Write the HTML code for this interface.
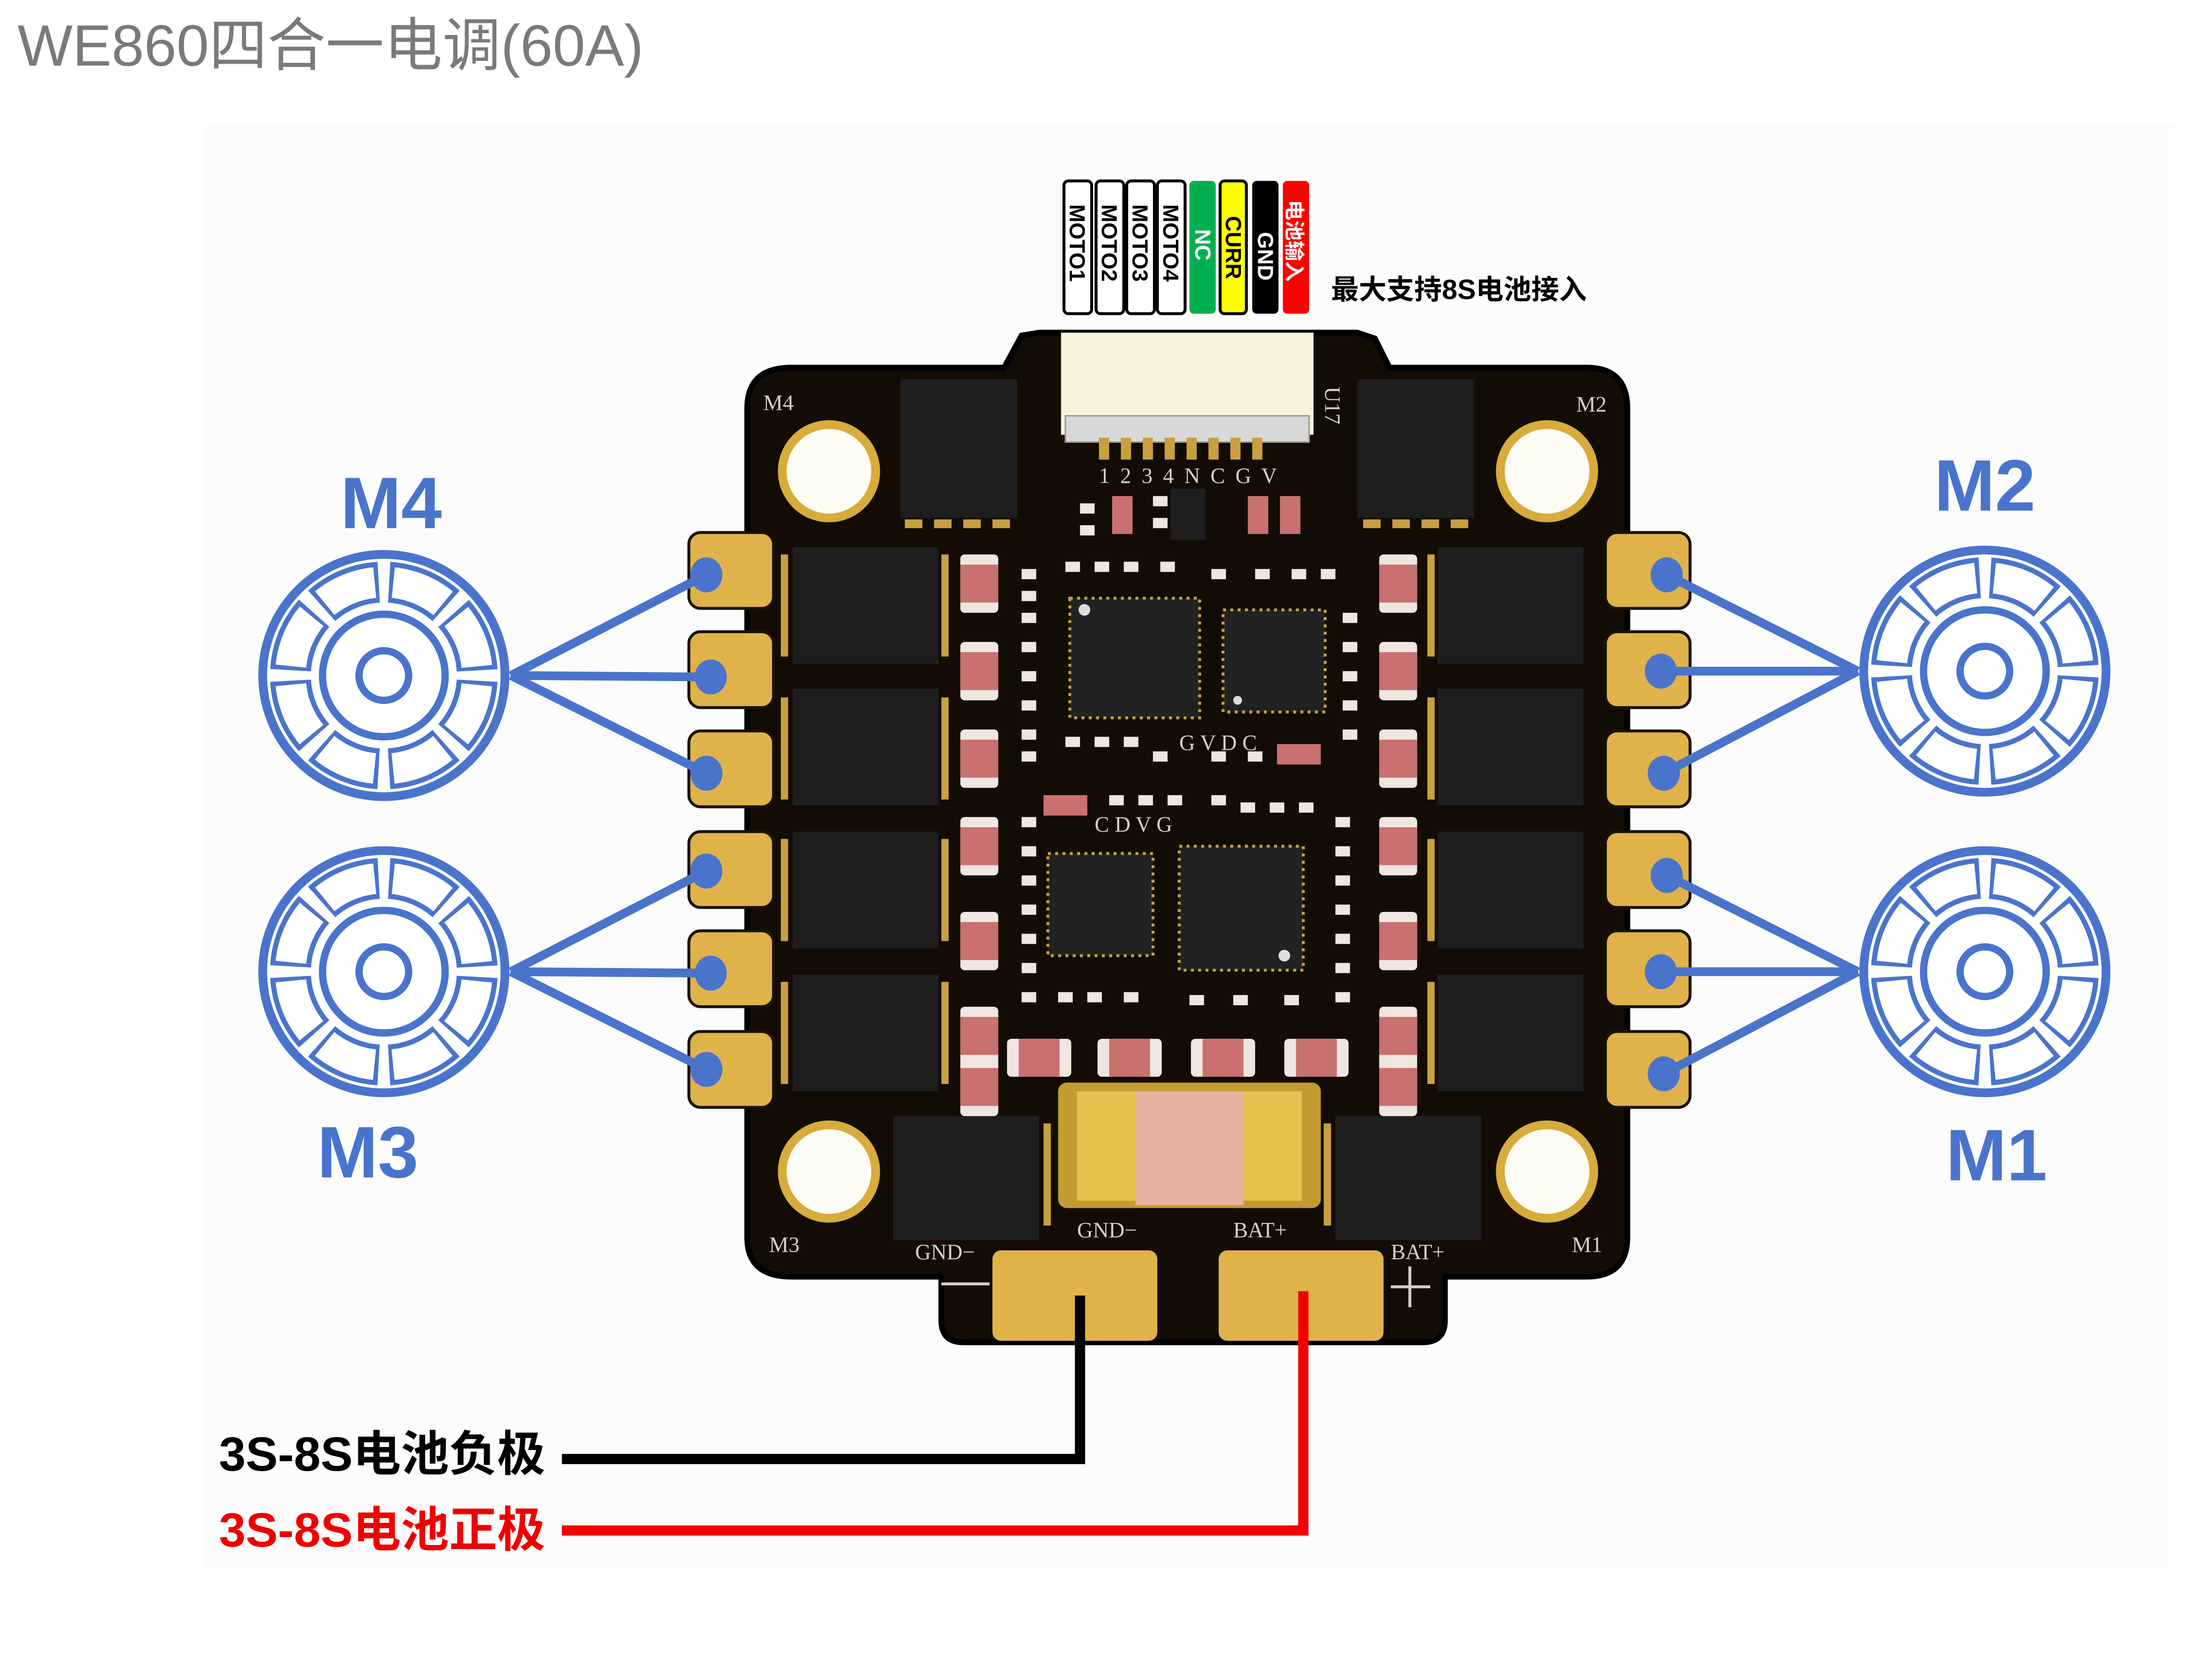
<!DOCTYPE html>
<html><head><meta charset="utf-8">
<style>
html,body{margin:0;padding:0;background:#fff;}
svg{display:block;}
.t{font-family:"Liberation Sans","Noto Sans CJK SC",sans-serif;}
.s{font-family:"Liberation Serif",serif;fill:#d8d0c0;font-size:15px;}
</style></head><body>
<svg width="5120" height="3779" viewBox="0 0 1552 1146" preserveAspectRatio="none" xmlns="http://www.w3.org/2000/svg">
<defs>
<g id="motor">
  <circle r="83" fill="#fff" stroke="#4a74cc" stroke-width="6"/>
  <circle r="64" fill="none" stroke="#4a74cc" stroke-width="28" stroke-dasharray="43 7.27" stroke-dashoffset="-3.6"/>
  <circle r="64" fill="none" stroke="#fff" stroke-width="21" stroke-dasharray="37.5 12.77" stroke-dashoffset="-6.4"/>
  <circle r="42" fill="#fff" stroke="#4a74cc" stroke-width="5"/>
  <circle r="17" fill="#fff" stroke="#4a74cc" stroke-width="5"/>
</g>
<g id="pad"><rect x="0" y="0" width="58" height="52" rx="8" fill="#e0b24a" stroke="#1a1206" stroke-width="2"/></g>
<g id="fet"><rect x="0" y="0" width="100" height="80" fill="#1e1e1e"/></g>
<g id="rv"><rect x="0" y="0" width="26" height="40" rx="3" fill="#f0e6e0"/><rect x="0" y="7" width="26" height="26" fill="#c97070"/></g>
<g id="rh"><rect x="0" y="0" width="44" height="26" rx="3" fill="#f0e6e0"/><rect x="8" y="0" width="28" height="26" fill="#c97070"/></g>
<g id="sm"><rect width="10" height="7" fill="#f0e6e0"/></g>
</defs>

<rect x="140" y="85" width="1350" height="990" fill="#fcfcfc"/>

<text class="t" x="12" y="45" font-size="40" fill="#7a7a7a">WE860四合一电调(60A)</text>

<!-- PCB -->
<path d="M542 252 L688 252 L700 230 L712 228 L930 228 L942 232 L952 252 L1087 252 Q1115 252 1115 280 L1115 848 Q1115 875 1087 875 L990 875 L990 905 Q990 920 975 920 L660 920 Q645 920 645 905 L645 875 L542 875 Q512 875 512 848 L512 280 Q512 252 542 252 Z" fill="#120c04" stroke="#000" stroke-width="4"/>

<!-- mount holes -->
<g fill="#fdfcf4" stroke="#d7ab3c" stroke-width="6">
<circle cx="568" cy="323" r="32"/><circle cx="1060" cy="323" r="32"/>
<circle cx="568" cy="803" r="32"/><circle cx="1060" cy="803" r="32"/>
</g>

<!-- side pads -->
<g>
<use href="#pad" x="472" y="365"/><use href="#pad" x="472" y="433"/><use href="#pad" x="472" y="501"/>
<use href="#pad" x="472" y="570"/><use href="#pad" x="472" y="638"/><use href="#pad" x="472" y="707"/>
<use href="#pad" x="1100" y="365"/><use href="#pad" x="1100" y="433"/><use href="#pad" x="1100" y="501"/>
<use href="#pad" x="1100" y="570"/><use href="#pad" x="1100" y="638"/><use href="#pad" x="1100" y="707"/>
</g>

<!-- MOSFETs -->
<use href="#fet" x="543" y="375"/><use href="#fet" x="543" y="472"/><use href="#fet" x="543" y="570"/><use href="#fet" x="543" y="668"/>
<use href="#fet" x="985" y="375"/><use href="#fet" x="985" y="472"/><use href="#fet" x="985" y="570"/><use href="#fet" x="985" y="668"/>
<rect x="617" y="260" width="80" height="95" fill="#1e1e1e"/>
<rect x="930" y="260" width="80" height="95" fill="#1e1e1e"/>
<rect x="612" y="765" width="100" height="85" fill="#1e1e1e"/>
<rect x="915" y="765" width="100" height="85" fill="#1e1e1e"/>
<g fill="#c9a040">
<rect x="620" y="356" width="12" height="6"/><rect x="640" y="356" width="12" height="6"/><rect x="660" y="356" width="12" height="6"/><rect x="680" y="356" width="12" height="6"/>
<rect x="934" y="356" width="12" height="6"/><rect x="954" y="356" width="12" height="6"/><rect x="974" y="356" width="12" height="6"/><rect x="994" y="356" width="12" height="6"/>
<rect x="535" y="380" width="5" height="70"/><rect x="535" y="478" width="5" height="70"/><rect x="535" y="575" width="5" height="70"/><rect x="535" y="673" width="5" height="70"/>
<rect x="645" y="380" width="5" height="70"/><rect x="645" y="478" width="5" height="70"/><rect x="645" y="575" width="5" height="70"/><rect x="645" y="673" width="5" height="70"/>
<rect x="978" y="380" width="5" height="70"/><rect x="978" y="478" width="5" height="70"/><rect x="978" y="575" width="5" height="70"/><rect x="978" y="673" width="5" height="70"/>
<rect x="715" y="770" width="5" height="70"/><rect x="907" y="770" width="5" height="70"/>
</g>

<!-- pink resistors columns -->
<g>
<use href="#rv" x="658" y="380"/><use href="#rv" x="658" y="440"/><use href="#rv" x="658" y="500"/><use href="#rv" x="658" y="560"/><use href="#rv" x="658" y="625"/><use href="#rv" x="658" y="690"/>
<use href="#rv" x="945" y="380"/><use href="#rv" x="945" y="440"/><use href="#rv" x="945" y="500"/><use href="#rv" x="945" y="560"/><use href="#rv" x="945" y="625"/><use href="#rv" x="945" y="690"/>
<use href="#rh" x="690" y="712"/><use href="#rh" x="752" y="712"/><use href="#rh" x="816" y="712"/><use href="#rh" x="880" y="712"/>
<use href="#rv" x="658" y="725"/><use href="#rv" x="945" y="725"/>
</g>

<!-- chips -->
<rect x="733" y="410" width="89" height="82" fill="#222" stroke="#c9a040" stroke-width="2" stroke-dasharray="2 3"/>
<rect x="838" y="418" width="70" height="70" fill="#222" stroke="#c9a040" stroke-width="2" stroke-dasharray="2 3"/>
<rect x="718" y="585" width="72" height="70" fill="#222" stroke="#c9a040" stroke-width="2" stroke-dasharray="2 3"/>
<rect x="808" y="580" width="85" height="85" fill="#222" stroke="#c9a040" stroke-width="2" stroke-dasharray="2 3"/>
<circle cx="743" cy="418" r="4" fill="#ddd"/><circle cx="848" cy="480" r="3" fill="#ddd"/><circle cx="880" cy="655" r="4" fill="#ddd"/>

<!-- small parts -->
<g>
<use href="#sm" x="700" y="390"/><use href="#sm" x="700" y="405"/><use href="#sm" x="700" y="420"/><use href="#sm" x="700" y="440"/><use href="#sm" x="700" y="460"/><use href="#sm" x="700" y="480"/><use href="#sm" x="700" y="500"/><use href="#sm" x="700" y="515"/>
<use href="#sm" x="730" y="385"/><use href="#sm" x="750" y="385"/><use href="#sm" x="770" y="385"/><use href="#sm" x="795" y="385"/><use href="#sm" x="830" y="390"/><use href="#sm" x="860" y="390"/><use href="#sm" x="885" y="390"/><use href="#sm" x="905" y="390"/>
<use href="#sm" x="920" y="420"/><use href="#sm" x="920" y="440"/><use href="#sm" x="920" y="460"/><use href="#sm" x="920" y="480"/><use href="#sm" x="920" y="500"/>
<use href="#sm" x="730" y="505"/><use href="#sm" x="750" y="505"/><use href="#sm" x="770" y="505"/><use href="#sm" x="790" y="515"/><use href="#sm" x="830" y="515"/><use href="#sm" x="855" y="515"/>
<use href="#sm" x="700" y="560"/><use href="#sm" x="700" y="580"/><use href="#sm" x="700" y="600"/><use href="#sm" x="700" y="620"/><use href="#sm" x="700" y="640"/><use href="#sm" x="700" y="660"/><use href="#sm" x="700" y="680"/>
<use href="#sm" x="915" y="560"/><use href="#sm" x="915" y="580"/><use href="#sm" x="915" y="600"/><use href="#sm" x="915" y="620"/><use href="#sm" x="915" y="640"/><use href="#sm" x="915" y="660"/><use href="#sm" x="915" y="680"/>
<use href="#sm" x="760" y="545"/><use href="#sm" x="780" y="545"/><use href="#sm" x="800" y="545"/><use href="#sm" x="830" y="545"/><use href="#sm" x="850" y="550"/><use href="#sm" x="870" y="550"/><use href="#sm" x="890" y="550"/>
<use href="#sm" x="725" y="680"/><use href="#sm" x="745" y="680"/><use href="#sm" x="770" y="680"/><use href="#sm" x="815" y="682"/><use href="#sm" x="845" y="682"/><use href="#sm" x="880" y="682"/>
<use href="#sm" x="740" y="345"/><use href="#sm" x="740" y="360"/><use href="#sm" x="790" y="340"/><use href="#sm" x="790" y="355"/>
</g>
<rect x="715" y="545" width="30" height="14" fill="#c97070"/><rect x="875" y="510" width="30" height="14" fill="#c97070"/>
<rect x="762" y="340" width="14" height="26" fill="#c97070"/><rect x="855" y="340" width="14" height="26" fill="#c97070"/><rect x="877" y="340" width="14" height="26" fill="#c97070"/>
<rect x="802" y="335" width="24" height="35" fill="#1e1e1e"/>

<!-- shunt -->
<rect x="725" y="742" width="180" height="86" rx="6" fill="#c49b30"/>
<rect x="738" y="748" width="40" height="75" fill="#e8c24f"/>
<rect x="852" y="748" width="40" height="75" fill="#e8c24f"/>
<rect x="778" y="748" width="74" height="78" fill="#e8b2a0"/>

<!-- connector -->
<rect x="727" y="228" width="173" height="70" fill="#faf3dc"/>
<rect x="730" y="285" width="167" height="18" fill="#d8d8d8" stroke="#999" stroke-width="1"/>
<g fill="#c9a040">
<rect x="753" y="300" width="7" height="15"/><rect x="768" y="300" width="7" height="15"/><rect x="783" y="300" width="7" height="15"/><rect x="798" y="300" width="7" height="15"/><rect x="813" y="300" width="7" height="15"/><rect x="828" y="300" width="7" height="15"/><rect x="843" y="300" width="7" height="15"/><rect x="858" y="300" width="7" height="15"/>
</g>
<text class="s" x="753" y="331" font-size="13" textLength="122">1 2 3 4 N C G V</text>
<text class="s" transform="translate(908,265) rotate(90)" font-size="16">U17</text>
<text class="s" x="523" y="281">M4</text>
<text class="s" x="1080" y="282">M2</text>
<text class="s" x="527" y="858">M3</text>
<text class="s" x="1077" y="858">M1</text>
<text class="s" x="627" y="863">GND−</text>
<text class="s" x="738" y="848">GND−</text>
<text class="s" x="845" y="848">BAT+</text>
<text class="s" x="953" y="863">BAT+</text>
<text class="s" x="808" y="514" font-size="14">G V D C</text>
<text class="s" x="750" y="570" font-size="14">C D V G</text>
<path d="M645 880 H678" stroke="#d8d0c0" stroke-width="2"/>
<path d="M953 882 H980 M966 868 V896" stroke="#d8d0c0" stroke-width="2"/>

<!-- bottom pads -->
<rect x="680" y="857" width="113" height="62" rx="6" fill="#e0b24a"/>
<rect x="835" y="857" width="113" height="62" rx="6" fill="#e0b24a"/>

<!-- wires -->
<path d="M740 888 V1000 H385" fill="none" stroke="#000" stroke-width="7"/>
<path d="M893 885 V1049 H385" fill="none" stroke="#f00000" stroke-width="7"/>
<text class="t" x="150" y="1008" font-size="33" font-weight="bold" fill="#000">3S-8S电池负极</text>
<text class="t" x="150" y="1060" font-size="33" font-weight="bold" fill="#f00000">3S-8S电池正极</text>

<!-- top wire labels -->
<g stroke="#000" stroke-width="2">
<rect x="729" y="124" width="19" height="91" rx="3" fill="#fff"/>
<rect x="751" y="124" width="19" height="91" rx="3" fill="#fff"/>
<rect x="772" y="124" width="19" height="91" rx="3" fill="#fff"/>
<rect x="793" y="124" width="19" height="91" rx="3" fill="#fff"/>
<rect x="836" y="124" width="18" height="91" rx="3" fill="#ffff00"/>
</g>
<rect x="815" y="124" width="18" height="91" rx="3" fill="#00b050"/>
<rect x="858" y="124" width="18" height="91" rx="3" fill="#000"/>
<rect x="879" y="124" width="18" height="91" rx="3" fill="#ff0000"/>
<g class="t" font-size="15" font-weight="bold">
<text transform="translate(733,140) rotate(90)" fill="#000">MOTO1</text>
<text transform="translate(755,140) rotate(90)" fill="#000">MOTO2</text>
<text transform="translate(776,140) rotate(90)" fill="#000">MOTO3</text>
<text transform="translate(797,140) rotate(90)" fill="#000">MOTO4</text>
<text transform="translate(819,157) rotate(90)" fill="#fff">NC</text>
<text transform="translate(840,148) rotate(90)" fill="#000">CURR</text>
<text transform="translate(862,159) rotate(90)" fill="#fff">GND</text>
<text transform="translate(882,137) rotate(90)" fill="#fff" font-size="14">电池输入</text>
</g>
<text class="t" x="912" y="205" font-size="19" font-weight="bold" fill="#000">最大支持8S电池接入</text>

<!-- motors -->
<use href="#motor" x="263" y="463"/>
<use href="#motor" x="263" y="666"/>
<use href="#motor" x="1360" y="460"/>
<use href="#motor" x="1360" y="666"/>

<g stroke="#4a74cc" stroke-width="6" fill="none">
<path d="M350 463 L484 394 M350 463 L487 464 M350 463 L484 530"/>
<path d="M350 666 L484 597 M350 666 L487 667 M350 666 L484 733"/>
<path d="M1273 460 L1142 394 M1273 460 L1138 460 M1273 460 L1140 530"/>
<path d="M1273 666 L1142 600 M1273 666 L1138 666 M1273 666 L1140 736"/>
</g>
<g fill="#4a74cc">
<ellipse cx="484" cy="394" rx="11" ry="12"/><ellipse cx="487" cy="464" rx="11" ry="12"/><ellipse cx="484" cy="530" rx="11" ry="12"/>
<ellipse cx="484" cy="597" rx="11" ry="12"/><ellipse cx="487" cy="667" rx="11" ry="12"/><ellipse cx="484" cy="733" rx="11" ry="12"/>
<ellipse cx="1142" cy="394" rx="11" ry="12"/><ellipse cx="1138" cy="460" rx="11" ry="12"/><ellipse cx="1140" cy="530" rx="11" ry="12"/>
<ellipse cx="1142" cy="600" rx="11" ry="12"/><ellipse cx="1138" cy="666" rx="11" ry="12"/><ellipse cx="1140" cy="736" rx="11" ry="12"/>
</g>
<g class="t" font-size="50" font-weight="bold" fill="#4a74cc" text-anchor="middle">
<text x="268" y="362">M4</text>
<text x="252" y="807">M3</text>
<text x="1360" y="350">M2</text>
<text x="1368" y="809">M1</text>
</g>
</svg>
</body></html>
